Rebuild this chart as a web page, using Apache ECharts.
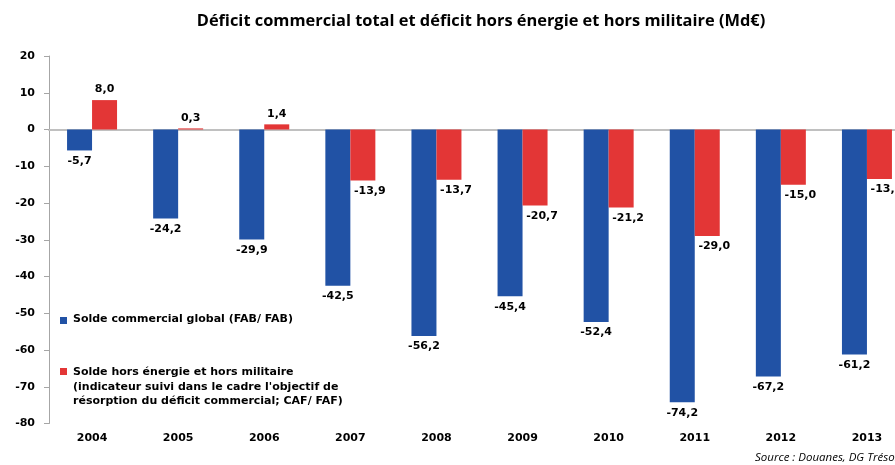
<!DOCTYPE html>
<html>
<head>
<meta charset="utf-8">
<script src="https://cdn.jsdelivr.net/npm/echarts@6/dist/echarts.min.js"></script>
<style>
  html, body { margin: 0; padding: 0; background: #fff; }
  #chart { width: 895px; height: 465px; }
</style>
</head>
<body>
<div id="chart"></div>
<script>
// Years shown on the category axis
const years = ['2004', '2005', '2006', '2007', '2008', '2009', '2010', '2011', '2012', '2013'];
// Overall trade balance (FAB/FAB), billions of euros
const soldeGlobal = [-5.7, -24.2, -29.9, -42.5, -56.2, -45.4, -52.4, -74.2, -67.2, -61.2];
// Balance excluding energy and military goods (CAF/FAF), billions of euros
const soldeHorsEnergie = [8.0, 0.3, 1.4, -13.9, -13.7, -20.7, -21.2, -29.0, -15.0, -13.5];

const BLUE = '#2152A5';
const RED = '#E33636';
const LABEL_FONT = 'DejaVu Sans';

const fmt = v => v.toFixed(1).replace('.', ',');

const chart = echarts.init(document.getElementById('chart'), null, { renderer: 'canvas' });

const labelBase = {
  show: true,
  position: 'outside',
  distance: 5,
  color: '#000',
  fontFamily: LABEL_FONT,
  fontWeight: 'bold',
  fontSize: 11,
  formatter: p => fmt(p.value)
};

chart.setOption({
  animation: false,
  title: {
    text: 'Déficit commercial total et déficit hors énergie et hors militaire (Md€)',
    left: 476,
    textAlign: 'center',
    top: 8,
    textStyle: { fontFamily: 'Open Sans', fontWeight: 'bold', fontSize: 16.4, color: '#000' }
  },
  // the last category runs past the right edge of the page
  grid: { left: 49, top: 56, bottom: 41.5, width: 861, outerBoundsMode: 'none', containLabel: false },
  xAxis: [
    {
      type: 'category',
      data: years,
      position: 'bottom',
      axisLine: { show: false, onZero: false },
      axisTick: { show: false },
      axisLabel: {
        margin: 9,
        color: '#000',
        fontFamily: LABEL_FONT,
        fontWeight: 'bold',
        fontSize: 11
      }
    },
    {
      type: 'category',
      data: years,
      position: 'bottom',
      axisLine: { show: true, onZero: true, lineStyle: { color: '#C0C0C0', width: 2 } },
      axisTick: { show: false },
      axisLabel: { show: false }
    }
  ],
  yAxis: {
    type: 'value',
    min: -80,
    max: 20,
    interval: 10,
    axisLine: { show: true, lineStyle: { color: '#A6A6A6', width: 1 } },
    axisTick: { show: true, inside: false, length: 5, lineStyle: { color: '#A6A6A6' } },
    splitLine: { show: false },
    axisLabel: {
      margin: 14,
      color: '#000',
      fontFamily: LABEL_FONT,
      fontWeight: 'bold',
      fontSize: 11
    }
  },
  series: [
    {
      name: 'Solde commercial global (FAB/ FAB)',
      type: 'bar',
      xAxisIndex: 0,
      data: soldeGlobal,
      barWidth: 25,
      barGap: '0%',
      itemStyle: { color: BLUE },
      label: labelBase
    },
    {
      name: 'Solde hors énergie et hors militaire',
      type: 'bar',
      xAxisIndex: 0,
      data: soldeHorsEnergie.map(v => ({
        value: v,
        label: v < 0 ? { offset: [7, 0] } : {}
      })),
      barWidth: 25,
      barGap: '0%',
      itemStyle: { color: RED },
      label: labelBase
    }
  ],
  graphic: [
    { type: 'rect', left: 60, top: 317, shape: { width: 7, height: 7 }, style: { fill: BLUE } },
    {
      type: 'text', left: 73, top: 314,
      style: {
        text: 'Solde commercial global (FAB/ FAB)',
        fill: '#000', font: 'bold 11px "DejaVu Sans"'
      }
    },
    { type: 'rect', left: 60, top: 368, shape: { width: 7, height: 7 }, style: { fill: RED } },
    {
      type: 'text', left: 73, top: 365,
      style: {
        text: "Solde hors énergie et hors militaire\n(indicateur suivi dans le cadre l'objectif de\nrésorption du déficit commercial; CAF/ FAF)",
        fill: '#000', font: 'bold 11px "DejaVu Sans"', lineHeight: 14.5
      }
    },
    {
      type: 'text', left: 755, top: 452,
      style: {
        text: 'Source : Douanes, DG Trésor',
        fill: '#000', font: 'italic 11.5px "Open Sans"'
      }
    }
  ]
});
</script>
</body>
</html>
